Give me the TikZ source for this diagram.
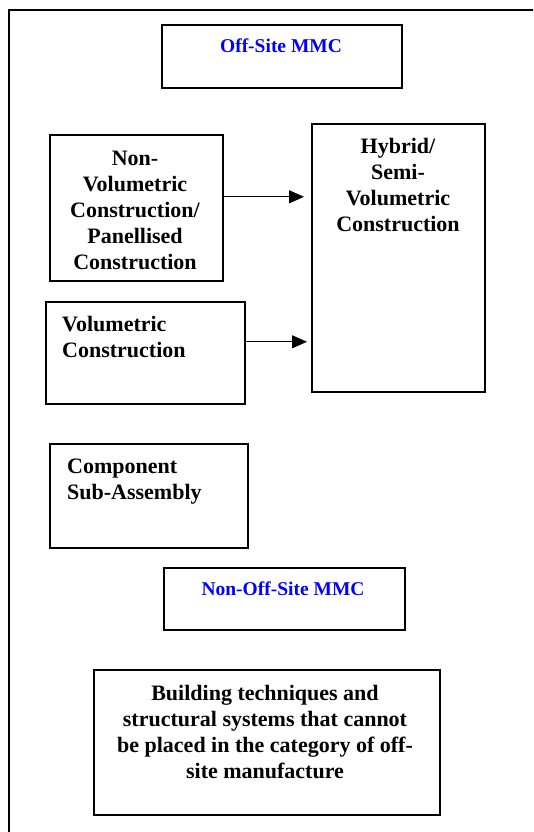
\documentclass[tikz,border=0pt]{standalone}
\usepackage{fontspec}
\setmainfont{Liberation Serif}
\usepackage{tikz}
\usetikzlibrary{arrows.meta,positioning}
\tikzset{%
  bbox/.style={draw,line width=1.6pt,inner sep=0,anchor=north west},
  btext/.style={font=\bfseries\fontsize{22}{26}\selectfont,inner sep=0,anchor=base},
  mmc/.style={font=\bfseries\fontsize{19.5}{23}\selectfont,text=blue,inner sep=0,anchor=base},
  harrow/.style={-{Triangle[length=15pt,width=13pt]},line width=1pt}
}

\begin{document}
\begin{tikzpicture}[x=1pt,y=-1pt]
    \clip (0,0) rectangle (533,832);
    \fill[white] (0,0) rectangle (533,832);
    % outer frame
    \coordinate (fb) at (9,845);
    \coordinate (ft) at (9,10);
    \coordinate (fr) at (545,10);
    \draw[line width=1.6pt] (fb) -- (ft) -- (fr);

    % boxes
    \node[bbox,minimum width=240pt,minimum height=63pt] (offsite) at (161,24) {};
    \node[bbox,minimum width=173pt,minimum height=146pt] (nonvol) at (49,134) {};
    \node[bbox,minimum width=199pt,minimum height=102pt] (vol) at (45,301) {};
    \node[bbox,minimum width=173pt,minimum height=268pt] (hybrid) at (311,123) {};
    \node[bbox,minimum width=198pt,minimum height=104pt] (comp) at (49,443) {};
    \node[bbox,minimum width=241pt,minimum height=62pt] (nonoff) at (163,567) {};
    \node[bbox,minimum width=346pt,minimum height=145pt] (bldg) at (93,669) {};

    % texts (base = last line)
    \node[mmc] (offsitetxt) at (281,53) {Off-Site MMC};
    \node[btext,align=center] (nonvoltxt) at (135,269)
      {Non-\\Volumetric\\Construction/\\Panellised\\Construction};
    \node[btext,align=left,anchor=base west] (voltxt) at (62,357)
      {Volumetric\\Construction};
    \node[btext,align=center] (hybridtxt) at (398,231)
      {Hybrid/\\Semi-\\Volumetric\\Construction};
    \node[btext,align=left,anchor=base west] (comptxt) at (67,499)
      {Component\\Sub-Assembly};
    \node[mmc] (nonofftxt) at (283,595) {Non-Off-Site MMC};
    \node[btext,align=center] (bldgtxt) at (265,778)
      {Building techniques and\\structural systems that cannot\\be placed in the category of off-\\site manufacture};

    % arrows
    \draw[harrow,shorten >=7pt] ([yshift=11pt]nonvol.east) -- ([yshift=11pt]nonvol.east -| hybrid.west);
    \draw[harrow,shorten >=4pt] ([yshift=11pt]vol.east) -- ([yshift=11pt]vol.east -| hybrid.west);
  \end{tikzpicture}
\end{document}
